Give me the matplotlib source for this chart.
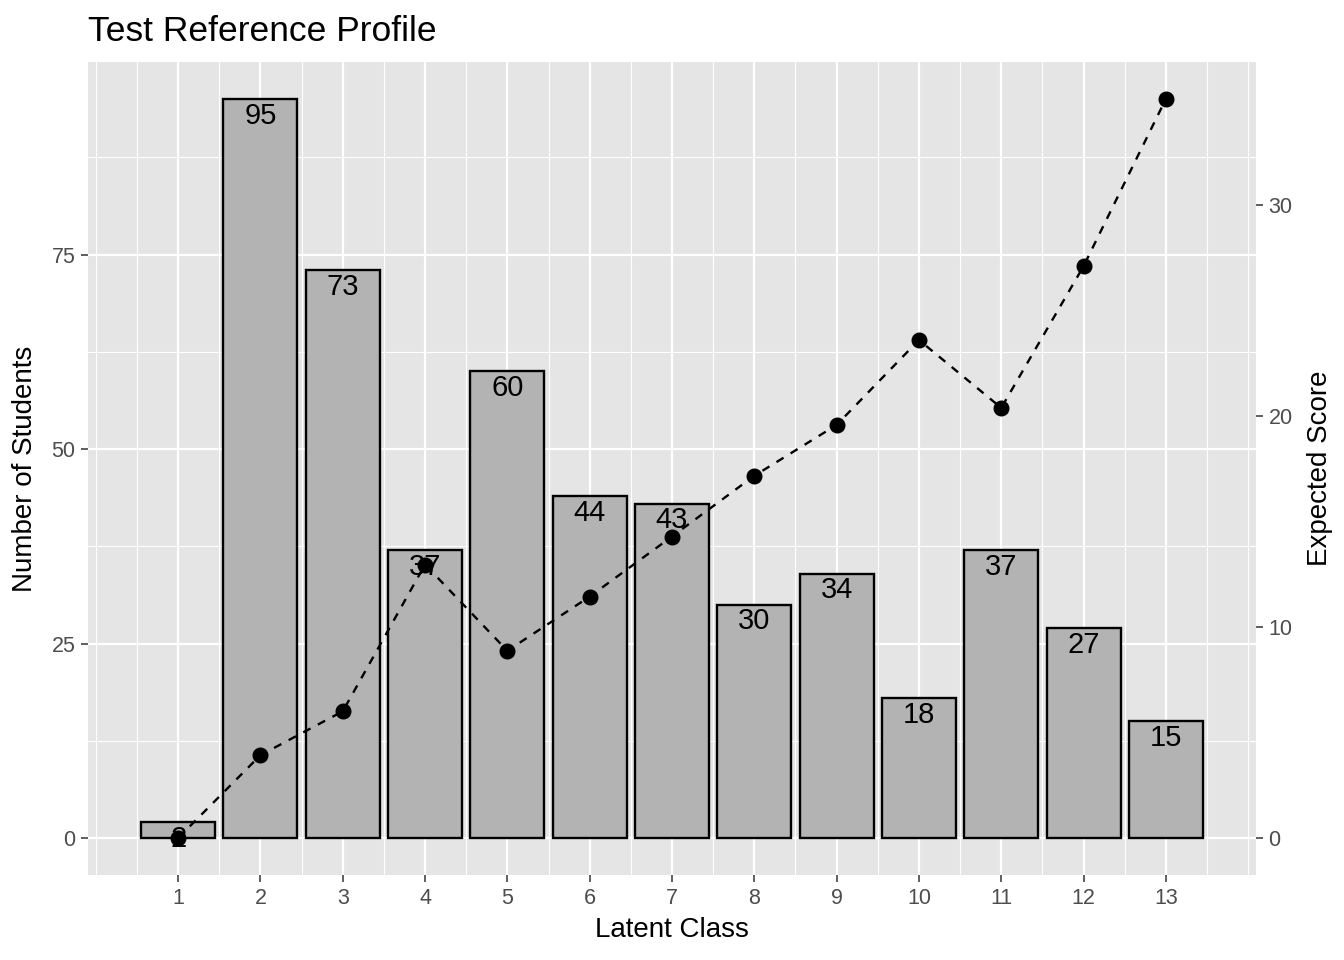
import numpy as np
import matplotlib.pyplot as plt

# data
latent_class = np.arange(1, 14)
n_students = [2, 95, 73, 37, 60, 44, 43, 30, 34, 18, 37, 27, 15]
expected_score = [0.0, 3.93, 6.01, 12.97, 8.88, 11.45, 14.3, 17.18, 19.59, 23.62, 20.4, 27.12, 35.05]

plt.rcParams['font.family'] = ['Liberation Sans', 'DejaVu Sans']

fig = plt.figure(figsize=(13.44, 9.6), dpi=100)
ax = fig.add_axes([88 / 1344, 1 - 875 / 960, (1256 - 88) / 1344, (875 - 62) / 960])
ax.set_facecolor('#E5E5E5')

# scale for secondary axis (max score mapped to max count)
ratio = max(n_students) / max(expected_score)

ylo, yhi = -4.75, 99.75
ax.set_xlim(-0.095, 14.095)
ax.set_ylim(ylo, yhi)

# grid lines, ggplot style
for y in [12.5, 37.5, 62.5, 87.5]:
    ax.axhline(y, color='white', lw=0.8, zorder=0)
for y in [0, 25, 50, 75]:
    ax.axhline(y, color='white', lw=1.6, zorder=0)
for x in [0] + list(np.arange(0.5, 14, 1)) + [14]:
    ax.axvline(x, color='white', lw=0.8, zorder=0)
for x in latent_class:
    ax.axvline(x, color='white', lw=1.6, zorder=0)

ax.bar(latent_class, n_students, width=0.9, color='#B3B3B3', edgecolor='black',
       linewidth=1.7, zorder=2)

for x, n in zip(latent_class, n_students):
    ax.annotate(str(n), (x, n), xytext=(0, -2), textcoords='offset points',
                ha='center', va='top', fontsize=21, color='black', zorder=3)

scaled = np.array(expected_score) * ratio
ax.plot(latent_class, scaled, color='black', lw=1.7, ls=(0, (3.5, 3.5)), zorder=4)
ax.plot(latent_class, scaled, 'o', color='black', markersize=10.5, zorder=5)

ax.set_xticks(latent_class)
ax.set_yticks([0, 25, 50, 75])
for s in ax.spines.values():
    s.set_visible(False)
ax.tick_params(axis='both', length=5, width=1.1, color='#333333',
               labelcolor='#4D4D4D', labelsize=15.5, pad=4)

ax.set_xlabel('Latent Class', fontsize=20, labelpad=6)
ax.set_ylabel('Number of Students', fontsize=20, labelpad=10)
ax.set_title('Test Reference Profile', fontsize=25.5, loc='left', x=0.0, pad=15)

ax2 = ax.twinx()
ax2.set_ylim(ylo / ratio, yhi / ratio)
ax2.set_yticks([0, 10, 20, 30])
for s in ax2.spines.values():
    s.set_visible(False)
ax2.tick_params(axis='y', length=5, width=1.1, color='#333333',
                labelcolor='#4D4D4D', labelsize=15.5, pad=4)
ax2.set_ylabel('Expected Score', fontsize=20, labelpad=10)

fig.savefig('out.png', dpi=100)
